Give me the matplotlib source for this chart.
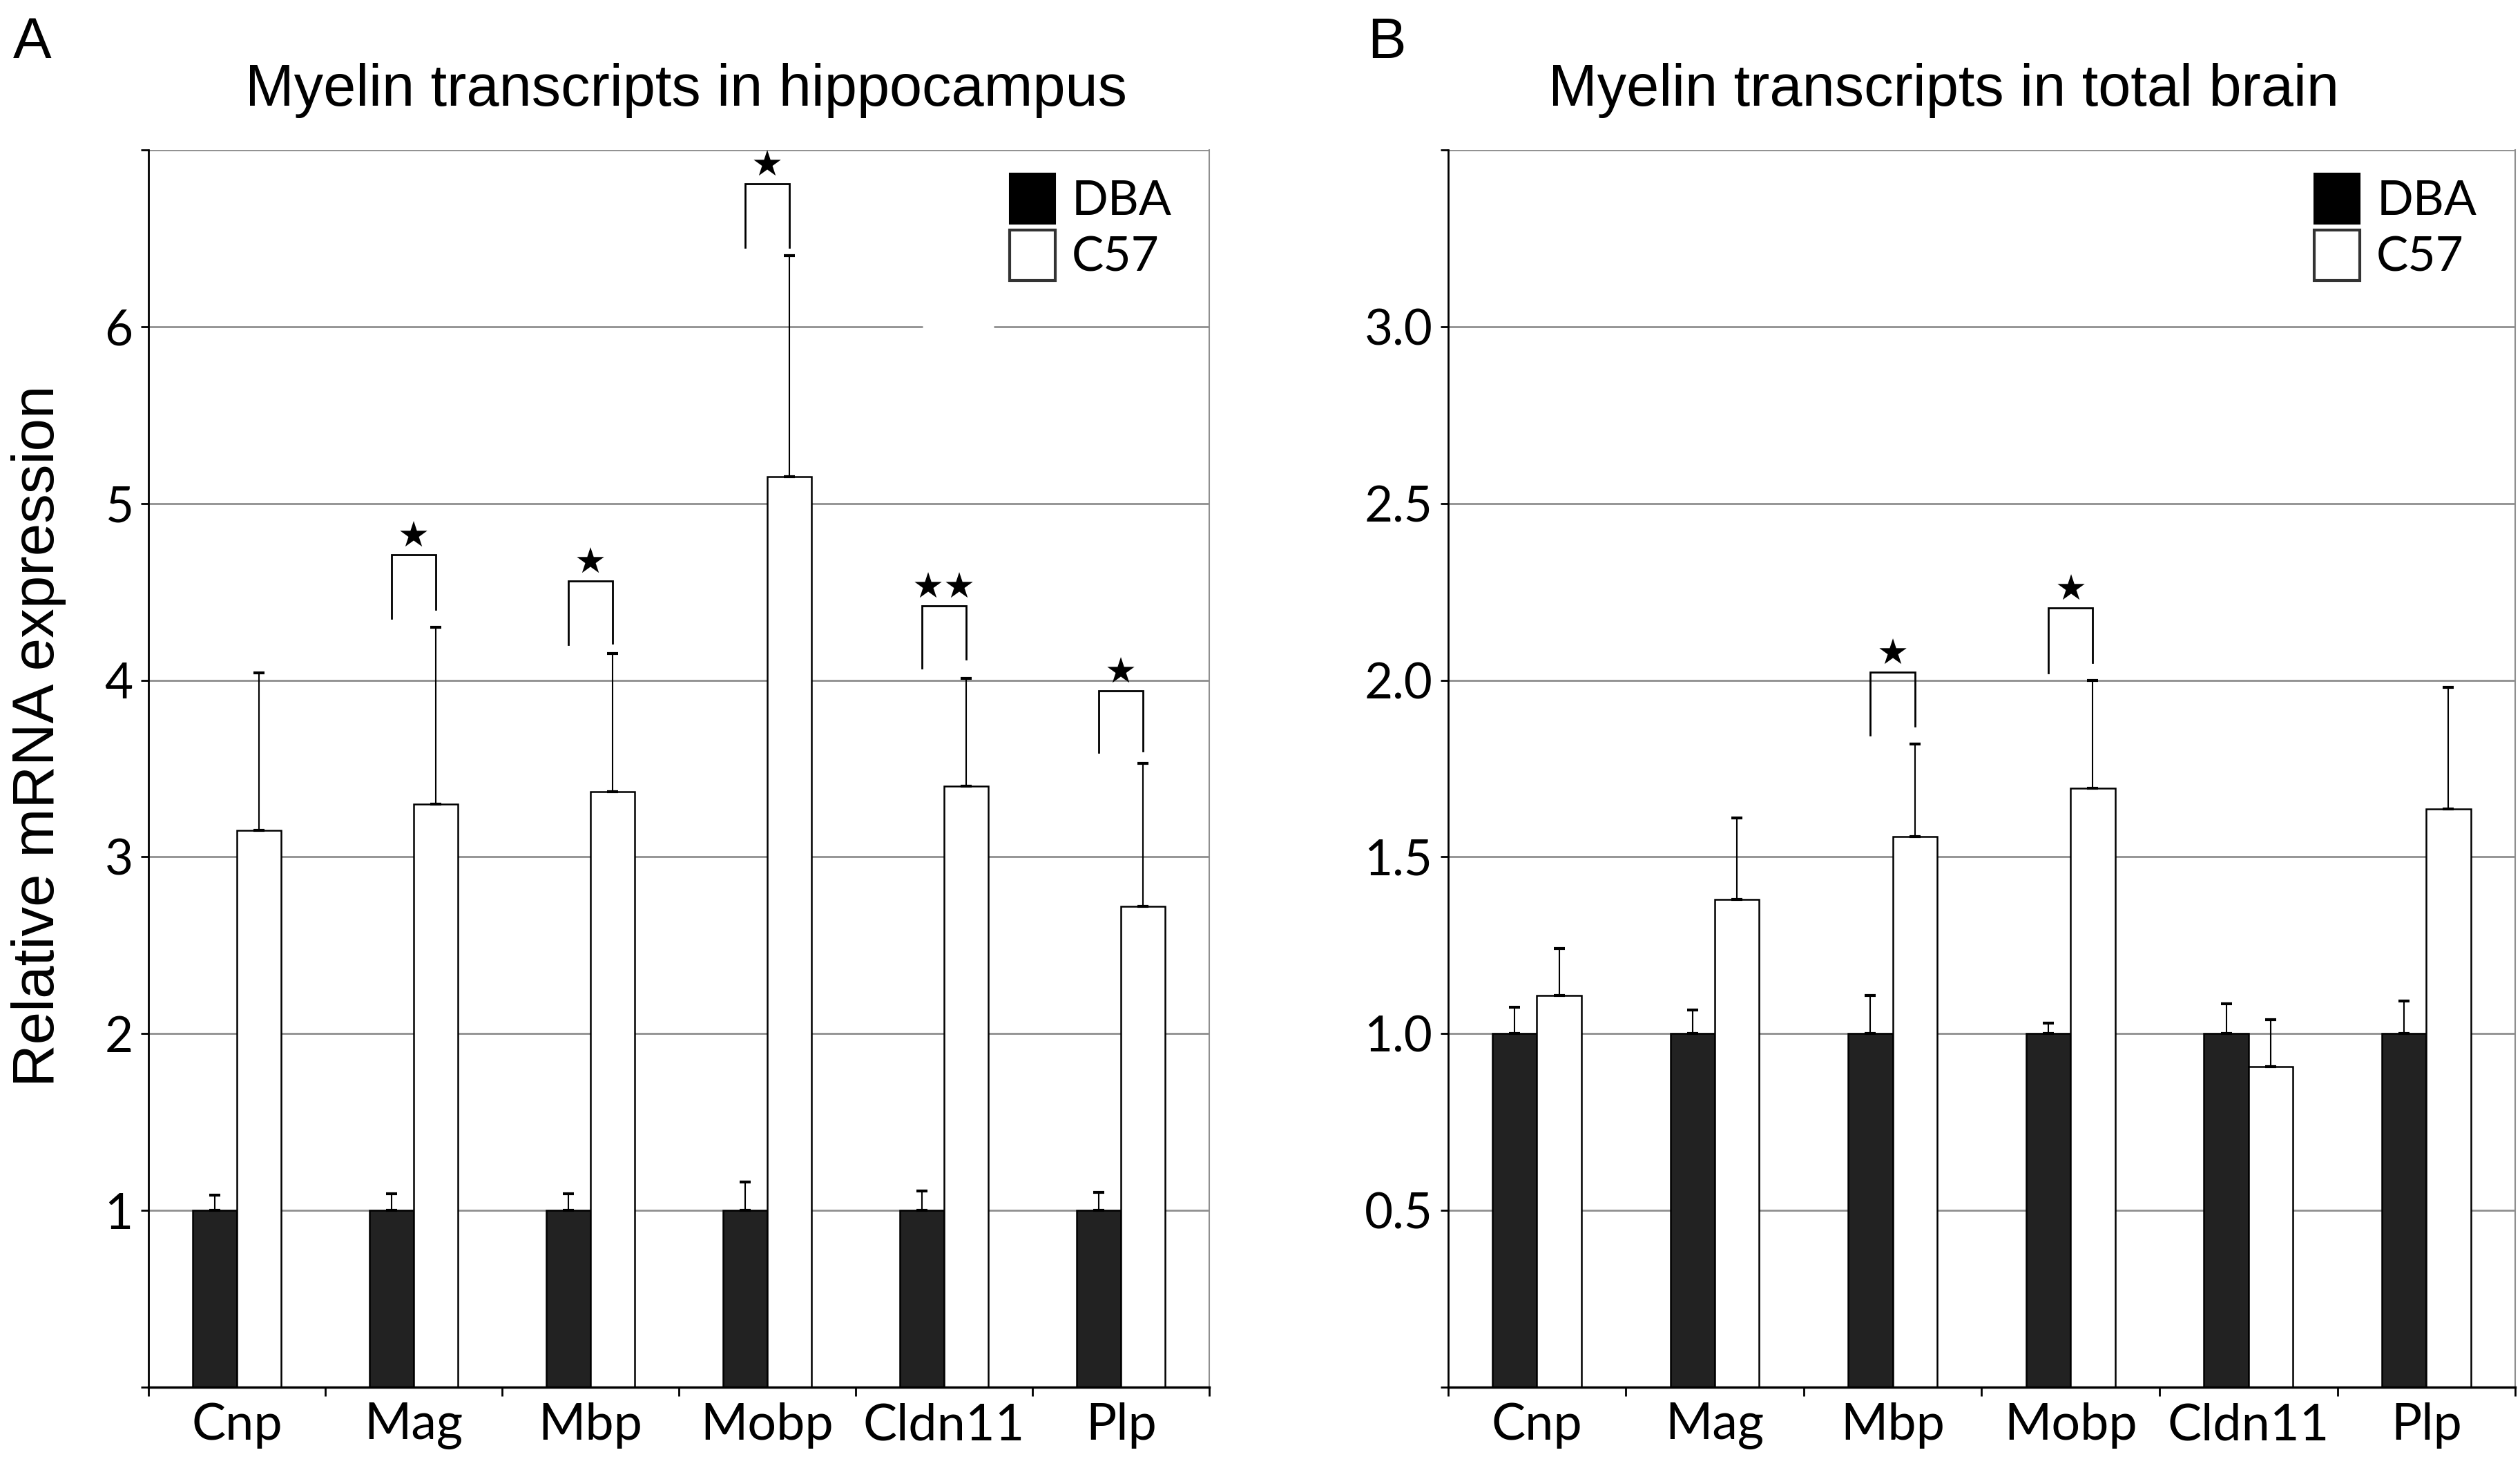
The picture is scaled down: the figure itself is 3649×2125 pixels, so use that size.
import numpy as np
import matplotlib
matplotlib.use("Agg")
import matplotlib.pyplot as plt
from matplotlib.patches import Patch

# --- dados ---
genes = ["Cnp", "Mag", "Mbp", "Mobp", "Cldn11", "Plp"]

hip_dba = [1.0, 1.0, 1.0, 1.0, 1.0, 1.0]
hip_dba_err = [0.086, 0.095, 0.095, 0.16, 0.11, 0.10]
hip_c57 = [3.15, 3.30, 3.37, 5.15, 3.40, 2.72]
hip_c57_err = [0.89, 1.00, 0.78, 1.25, 0.61, 0.81]

tb_dba = [1.0, 1.0, 1.0, 1.0, 1.0, 1.0]
tb_dba_err = [0.075, 0.066, 0.107, 0.03, 0.084, 0.093]
tb_c57 = [1.107, 1.38, 1.558, 1.695, 0.907, 1.636]
tb_c57_err = [0.133, 0.23, 0.262, 0.305, 0.133, 0.344]

# significância: (gene, estrelas, topo do colchete, base perna esq., base perna dir.)
hip_sig_genes = ["Mag", "Mbp", "Mobp", "Cldn11", "Plp"]
hip_sig_stars = ["★", "★", "★", "★★", "★"]
hip_sig_top = [4.71, 4.56, 6.81, 4.42, 3.94]
hip_sig_left = [4.35, 4.20, 6.45, 4.07, 3.59]
hip_sig_right = [4.40, 4.21, 6.45, 4.12, 3.60]

tb_sig_genes = ["Mbp", "Mobp"]
tb_sig_stars = ["★", "★"]
tb_sig_top = [2.023, 2.205]
tb_sig_left = [1.845, 2.02]
tb_sig_right = [1.87, 2.05]

W = 0.25
TICK_FONT = "Lato"
TITLE_FONT = "Liberation Sans"
GRID_COLOR = "#8f8f8f"

fig = plt.figure(figsize=(36.49, 21.25), dpi=100)
axA = fig.add_axes([0.0589, 0.0551, 0.421, 0.8428])
axB = fig.add_axes([0.5746, 0.0551, 0.4235, 0.8428])


def painel(ax, dba, dba_err, c57, c57_err, ymax, yticks, ylabels,
           sig_genes, sig_stars, sig_top, sig_left, sig_right, gap=None):
    x = np.arange(len(genes)) + 0.5
    ax.set_xlim(0, len(genes))
    ax.set_ylim(0, ymax)

    # grid manual (a linha em 6 do painel A tem uma falha)
    for yv in list(yticks) + [ymax]:
        if gap is not None and np.isclose(yv, gap[0]):
            ax.hlines(yv, 0, gap[1], color=GRID_COLOR, lw=2.0, zorder=0)
            ax.hlines(yv, gap[2], len(genes), color=GRID_COLOR, lw=2.0, zorder=0)
        else:
            ax.hlines(yv, 0, len(genes), color=GRID_COLOR, lw=2.0, zorder=0)

    ax.bar(x - W / 2, dba, W, color="#222222", edgecolor="black", lw=1.8,
           zorder=2, label="DBA")
    ax.bar(x + W / 2, c57, W, color="white", edgecolor="black", lw=1.8,
           zorder=2, label="C57")
    z = np.zeros(len(genes))
    ax.errorbar(x - W / 2, dba, yerr=[z, dba_err], fmt="none", ecolor="black",
                elinewidth=1.5, capsize=6, capthick=3, zorder=3)
    ax.errorbar(x + W / 2, c57, yerr=[z, c57_err], fmt="none", ecolor="black",
                elinewidth=1.5, capsize=6, capthick=3, zorder=3)

    # colchetes de significância
    for g, s, t, l, r in zip(sig_genes, sig_stars, sig_top, sig_left, sig_right):
        i = genes.index(g) + 0.5
        xl, xr = i - W / 2, i + W / 2
        ax.plot([xl, xl, xr, xr], [l, t, t, r], color="black", lw=2.0,
                solid_joinstyle="miter", zorder=4)
        ax.text(i, t, s, ha="center", va="bottom", fontsize=37,
                family="DejaVu Sans", zorder=4)

    # eixos
    ax.spines["top"].set_visible(False)
    ax.spines["right"].set_color(GRID_COLOR)
    ax.spines["right"].set_linewidth(1.5)
    ax.spines["left"].set_linewidth(2.0)
    ax.spines["bottom"].set_linewidth(2.5)
    ax.set_yticks([0] + list(yticks) + [ymax])
    ax.set_yticklabels([""] + ylabels + [""], fontsize=51, family=TICK_FONT)
    ax.tick_params(axis="y", length=8, width=2, pad=8, direction="out")
    ax.set_xticks(np.arange(len(genes) + 1))
    ax.set_xticklabels([])
    ax.tick_params(axis="x", which="major", length=9, width=2, direction="out")
    ax.set_xticks(x, minor=True)
    ax.set_xticklabels(genes, minor=True, fontsize=53, family=TICK_FONT)
    ax.tick_params(axis="x", which="minor", length=0, pad=16)

    h = [Patch(facecolor="black", edgecolor="black", lw=1.5),
         Patch(facecolor="white", edgecolor="#333333", lw=3)]
    ax.legend(h, ["DBA", "C57"], loc="upper left", bbox_to_anchor=(0.8116, 0.981),
              frameon=False, borderpad=0, borderaxespad=0, handlelength=0.95,
              handleheight=1.25, labelspacing=0.12, handletextpad=0.35,
              prop={"family": TICK_FONT, "size": 50})


painel(axA, hip_dba, hip_dba_err, hip_c57, hip_c57_err, 7,
       [1, 2, 3, 4, 5, 6], ["1", "2", "3", "4", "5", "6"],
       hip_sig_genes, hip_sig_stars, hip_sig_top, hip_sig_left, hip_sig_right,
       gap=(6, 4.38, 4.78))
painel(axB, tb_dba, tb_dba_err, tb_c57, tb_c57_err, 3.5,
       [0.5, 1.0, 1.5, 2.0, 2.5, 3.0], ["0.5", "1.0", "1.5", "2.0", "2.5", "3.0"],
       tb_sig_genes, tb_sig_stars, tb_sig_top, tb_sig_left, tb_sig_right)

# títulos e rótulos
fig.text(0.2722, 0.9385, "Myelin transcripts in hippocampus", ha="center",
         va="center", fontsize=61, family=TITLE_FONT)
fig.text(0.7713, 0.9385, "Myelin transcripts in total brain", ha="center",
         va="center", fontsize=61, family=TITLE_FONT)
fig.text(0.0154, 0.4989, "Relative mRNA expression", ha="center", va="center",
         rotation=90, fontsize=61.5, family=TITLE_FONT)
fig.text(0.0051, 0.989, "A", ha="left", va="top", fontsize=60, family=TITLE_FONT)
fig.text(0.5426, 0.989, "B", ha="left", va="top", fontsize=60, family=TITLE_FONT)

fig.savefig("out.png", dpi=100, facecolor="white")
